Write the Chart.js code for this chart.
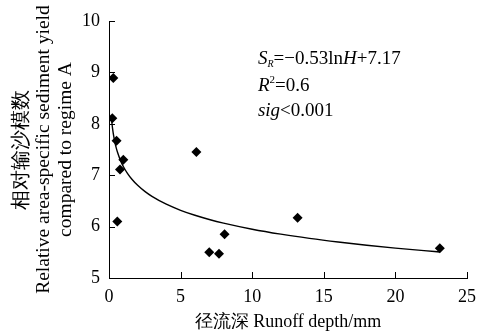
<!DOCTYPE html>
<html>
<head>
<meta charset="utf-8">
<script src="https://cdn.jsdelivr.net/npm/chart.js@4"></script>
<style>
  html, body { margin: 0; padding: 0; background: #fff; }
  #wrap { width: 478px; height: 333px; }
</style>
</head>
<body>
<div id="wrap"><canvas id="c"></canvas></div>
<script>
// observed points (runoff depth mm, relative sediment yield)
const runoffDepth = [0.3, 0.23, 0.53, 1.0, 0.77, 0.58, 6.1, 13.17, 8.07, 7.0, 7.68, 23.1];
const sedimentYield = [8.89, 8.11, 7.67, 7.30, 7.11, 6.10, 7.45, 6.17, 5.85, 5.50, 5.47, 5.58];

// fitted curve S_R = -0.53 ln H + 7.17, sampled between these depths
const fitSlope = -0.53;
const fitIntercept = 7.17;
const fitDepths = [0.19, 0.25, 0.3, 0.4, 0.5, 0.6, 0.8, 1, 1.3, 1.6, 2, 2.5, 3, 4, 5, 6, 7, 8, 10, 12, 14, 16, 18, 20, 22, 23.1];

const xTicks = [0, 5, 10, 15, 20, 25];
const yTicks = [5, 6, 7, 8, 9, 10];

const scatterData = runoffDepth.map((x, i) => ({ x: x, y: sedimentYield[i] }));
const fitData = fitDepths.map(h => ({ x: h, y: fitSlope * Math.log(h) + fitIntercept }));

const serif = "'Liberation Serif', 'Times New Roman', serif";

// ticks point inward, and the equation text
const extras = {
  id: 'extras',
  afterDraw(chart) {
    const ctx = chart.ctx;
    const xs = chart.scales.x, ys = chart.scales.y;
    const area = chart.chartArea;
    ctx.save();
    ctx.strokeStyle = '#000';
    ctx.lineWidth = 1;
    ctx.beginPath();
    xTicks.forEach(v => {
      const px = Math.round(xs.getPixelForValue(v)) + 0.5;
      ctx.moveTo(px, area.bottom);
      ctx.lineTo(px, area.bottom - 6);
    });
    yTicks.forEach(v => {
      const py = Math.round(ys.getPixelForValue(v)) + 0.5;
      ctx.moveTo(area.left, py);
      ctx.lineTo(area.left + 6, py);
    });
    ctx.stroke();

    ctx.fillStyle = '#000';
    ctx.textBaseline = 'alphabetic';
    let x0 = xs.getPixelForValue(10.4);
    let y1 = ys.getPixelForValue(9.17);
    let y2 = ys.getPixelForValue(8.64);
    let y3 = ys.getPixelForValue(8.16);

    // line 1: S_R=-0.53lnH+7.17
    let x = x0;
    ctx.font = 'italic 19px ' + serif;
    ctx.fillText('S', x, y1); x += ctx.measureText('S').width;
    ctx.font = 'italic 10px ' + serif;
    ctx.fillText('R', x, y1 + 3); x += ctx.measureText('R').width;
    ctx.font = '19px ' + serif;
    ctx.fillText('=\u22120.53ln', x, y1); x += ctx.measureText('=\u22120.53ln').width;
    ctx.font = 'italic 19px ' + serif;
    ctx.fillText('H', x, y1); x += ctx.measureText('H').width;
    ctx.font = '19px ' + serif;
    ctx.fillText('+7.17', x, y1);

    // line 2: R^2=0.6
    x = x0;
    ctx.font = 'italic 19px ' + serif;
    ctx.fillText('R', x, y2); x += ctx.measureText('R').width;
    ctx.font = '11px ' + serif;
    ctx.fillText('2', x, y2 - 8); x += ctx.measureText('2').width;
    ctx.font = '19px ' + serif;
    ctx.fillText('=0.6', x, y2);

    // line 3: sig<0.001
    x = x0;
    ctx.font = 'italic 19px ' + serif;
    ctx.fillText('sig', x, y3); x += ctx.measureText('sig').width;
    ctx.font = '19px ' + serif;
    ctx.fillText('<0.001', x, y3);
    ctx.restore();
  }
};

new Chart(document.getElementById('c'), {
  type: 'scatter',
  data: {
    datasets: [
      {
        label: 'observed',
        data: scatterData,
        pointStyle: 'rectRot',
        pointRadius: 5,
        backgroundColor: '#000',
        borderColor: '#000',
        borderWidth: 0
      },
      {
        label: 'fit',
        type: 'line',
        data: fitData,
        showLine: true,
        borderColor: '#000',
        borderWidth: 1.4,
        pointRadius: 0,
        fill: false,
        tension: 0.4,
        cubicInterpolationMode: 'monotone'
      }
    ]
  },
  options: {
    responsive: true,
    maintainAspectRatio: false,
    animation: false,
    layout: { padding: { top: 21, right: 0, left: 0, bottom: 0 } },
    plugins: {
      legend: { display: false },
      tooltip: { enabled: false }
    },
    scales: {
      x: {
        type: 'linear',
        min: 0,
        max: 25,
        afterBuildTicks: s => { s.ticks = xTicks.map(v => ({ value: v })); },
        afterFit: s => { s.height = 55; s.paddingRight = 11; },
        border: { display: true, color: '#000', width: 1 },
        grid: { display: false, drawTicks: false },
        ticks: { color: '#000', padding: 8, font: { family: serif, size: 18 } },
        title: {
          display: true,
          text: '径流深 Runoff depth/mm',
          color: '#000',
          padding: { top: 1, bottom: 0 },
          font: { family: serif, size: 18 }
        }
      },
      y: {
        type: 'linear',
        min: 5,
        max: 10,
        afterBuildTicks: s => { s.ticks = yTicks.map(v => ({ value: v })); },
        afterFit: s => { s.width = 109; },
        border: { display: true, color: '#000', width: 1 },
        grid: { display: false, drawTicks: false },
        ticks: { color: '#000', padding: 9, font: { family: serif, size: 18 } },
        title: {
          display: true,
          text: ['相对输沙模数', 'Relative area-specific sediment yield', 'compared to regime A'],
          color: '#000',
          padding: { top: 11, bottom: 0 },
          font: { family: serif, size: 19.5, lineHeight: 1.12 }
        }
      }
    }
  },
  plugins: [extras]
});
</script>
</body>
</html>
